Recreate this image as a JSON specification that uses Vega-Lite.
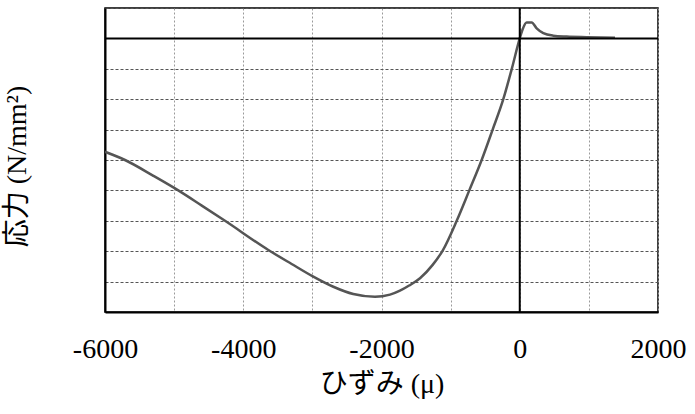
{
  "$schema": "https://vega.github.io/schema/vega-lite/v6.json",
  "autosize": "none",
  "width": 553,
  "height": 304,
  "padding": {"left": 105, "top": 8, "right": 37, "bottom": 102},
  "background": "white",
  "config": {
    "view": {"stroke": "#000", "strokeWidth": 1.5},
    "font": "Liberation Serif"
  },
  "datasets": {
    "curve": [
      {"strain": -6000, "stress": -3.73},
      {"strain": -5711, "stress": -4.0},
      {"strain": -5300, "stress": -4.52},
      {"strain": -4940, "stress": -5.0},
      {"strain": -4600, "stress": -5.5},
      {"strain": -4264, "stress": -6.0},
      {"strain": -3637, "stress": -6.96},
      {"strain": -3300, "stress": -7.42},
      {"strain": -3000, "stress": -7.82},
      {"strain": -2697, "stress": -8.17},
      {"strain": -2408, "stress": -8.41},
      {"strain": -2094, "stress": -8.5},
      {"strain": -1877, "stress": -8.43},
      {"strain": -1733, "stress": -8.3},
      {"strain": -1600, "stress": -8.13},
      {"strain": -1443, "stress": -7.89},
      {"strain": -1260, "stress": -7.45},
      {"strain": -1115, "stress": -6.98},
      {"strain": -912, "stress": -6.0},
      {"strain": -730, "stress": -5.0},
      {"strain": -551, "stress": -4.0},
      {"strain": -392, "stress": -3.0},
      {"strain": -238, "stress": -2.0},
      {"strain": -115, "stress": -1.0},
      {"strain": 0, "stress": 0.0},
      {"strain": 42, "stress": 0.3},
      {"strain": 100, "stress": 0.52},
      {"strain": 173, "stress": 0.52},
      {"strain": 245, "stress": 0.33},
      {"strain": 341, "stress": 0.17},
      {"strain": 485, "stress": 0.09},
      {"strain": 679, "stress": 0.06},
      {"strain": 968, "stress": 0.04},
      {"strain": 1378, "stress": 0.02}
    ],
    "zero": [{"v": 0}]
  },
  "layer": [
    {
      "data": {"name": "curve"},
      "mark": {"type": "line", "color": "#555555", "strokeWidth": 2.5, "interpolate": "monotone", "clip": true},
      "encoding": {
        "x": {
          "field": "strain", "type": "quantitative",
          "scale": {"domain": [-6000, 2000], "nice": false, "zero": false},
          "axis": {
            "values": [-6000, -5000, -4000, -3000, -2000, -1000, 0, 1000, 2000],
            "tickCount": 20,
            "labelExpr": "datum.value % 2000 == 0 ? '' + datum.value : ''",
            "labelOverlap": false, "labelFlush": false, "labelBound": false,
            "labelFont": "Liberation Serif", "labelFontSize": 28, "labelColor": "#000",
            "labelBaseline": "alphabetic", "labelPadding": 45,
            "ticks": false, "tickSize": 0,
            "domain": true, "domainColor": "#000", "domainWidth": 2,
            "grid": true, "gridColor": "#9a9a9a", "gridDash": [2, 2], "gridWidth": 1,
            "title": "ひずみ (μ)",
            "titleFont": "Liberation Serif, Noto Sans CJK JP", "titleFontSize": 28, "titleFontWeight": "normal",
            "titleColor": "#000", "titleBaseline": "alphabetic", "titleY": 80
          }
        },
        "y": {
          "field": "stress", "type": "quantitative",
          "scale": {"domain": [-9, 1], "nice": false, "zero": false},
          "axis": {
            "values": [-9, -8, -7, -6, -5, -4, -3, -2, -1, 0, 1],
            "tickCount": 20,
            "labels": false, "labelOverlap": false,
            "ticks": false, "tickSize": 0,
            "domain": true, "domainColor": "#000", "domainWidth": 2,
            "grid": true, "gridColor": "#555555", "gridDash": [3, 2], "gridWidth": 1,
            "title": "応力 (N/mm²)",
            "titleFont": "Liberation Serif, Noto Sans CJK JP", "titleFontSize": 28, "titleFontWeight": "normal",
            "titleColor": "#000", "titleAngle": 270, "titleBaseline": "alphabetic",
            "titleAlign": "center", "titleX": -80, "titleY": 158
          }
        }
      }
    },
    {
      "data": {"name": "zero"},
      "mark": {"type": "rule", "color": "#000", "strokeWidth": 2},
      "encoding": {"x": {"field": "v", "type": "quantitative"}}
    },
    {
      "data": {"name": "zero"},
      "mark": {"type": "rule", "color": "#000", "strokeWidth": 2},
      "encoding": {"y": {"field": "v", "type": "quantitative"}}
    }
  ]
}
